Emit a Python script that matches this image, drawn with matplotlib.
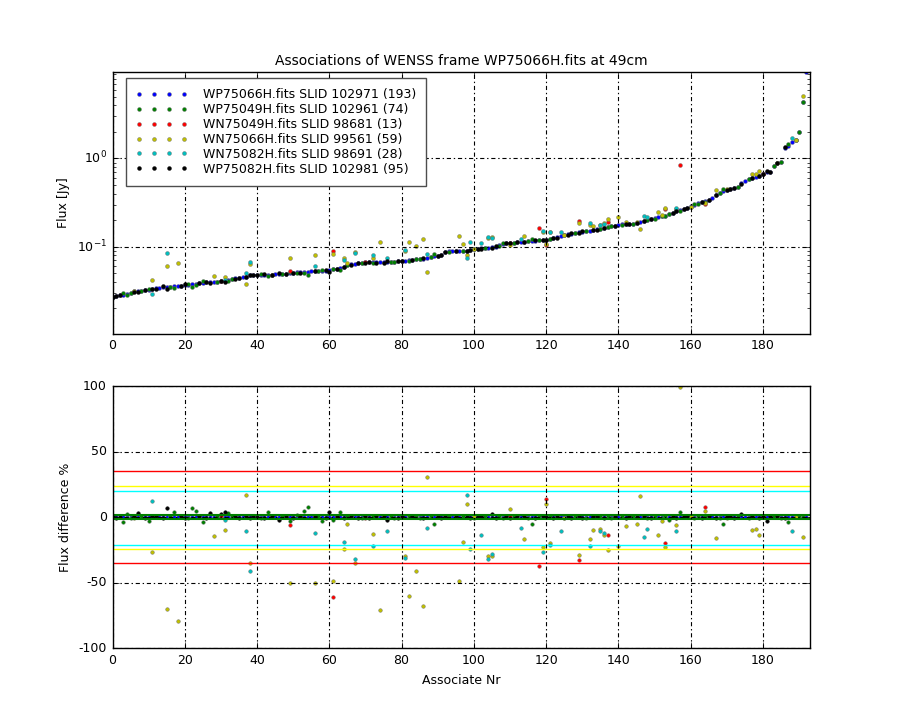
import matplotlib
matplotlib.use("Agg")
import matplotlib.pyplot as plt
import numpy as np

plt.style.use('classic')
plt.rcParams['font.family'] = ['DejaVu Sans']
plt.rcParams['font.size'] = 9
plt.rcParams['axes.unicode_minus'] = False

# main source fluxes (Jy), sorted, one per associate
main_flux = [
    0.027, 0.0275, 0.028, 0.0285, 0.029, 0.0295, 0.031, 0.031, 0.0315, 0.032,
    0.032, 0.033, 0.0335, 0.034, 0.035, 0.035, 0.035, 0.0355, 0.036, 0.036,
    0.037, 0.037, 0.0375, 0.038, 0.039, 0.039, 0.0395, 0.040, 0.040, 0.040,
    0.041, 0.041, 0.042, 0.043, 0.0435, 0.044, 0.0445, 0.045, 0.047, 0.048,
    0.048, 0.048, 0.048, 0.048, 0.048, 0.0485, 0.049, 0.049, 0.049, 0.050,
    0.050, 0.051, 0.051, 0.052, 0.052, 0.0525, 0.053, 0.053, 0.053, 0.053,
    0.054, 0.055, 0.056, 0.057, 0.059, 0.062, 0.063, 0.064, 0.065, 0.065,
    0.066, 0.066, 0.066, 0.066, 0.066, 0.0665, 0.067, 0.067, 0.067, 0.068,
    0.068, 0.069, 0.070, 0.071, 0.072, 0.072, 0.073, 0.075, 0.077, 0.078,
    0.079, 0.080, 0.087, 0.088, 0.088, 0.089, 0.089, 0.090, 0.090, 0.091,
    0.093, 0.094, 0.095, 0.096, 0.097, 0.098, 0.100, 0.103, 0.108, 0.109,
    0.110, 0.111, 0.112, 0.113, 0.114, 0.115, 0.116, 0.117, 0.118, 0.119,
    0.120, 0.122, 0.124, 0.127, 0.131, 0.134, 0.137, 0.140, 0.143, 0.145,
    0.147, 0.149, 0.152, 0.155, 0.157, 0.160, 0.163, 0.166, 0.170, 0.173,
    0.176, 0.178, 0.179, 0.180, 0.181, 0.183, 0.190, 0.195, 0.198, 0.205,
    0.210, 0.215, 0.220, 0.225, 0.232, 0.240, 0.250, 0.262, 0.270, 0.275,
    0.285, 0.300, 0.310, 0.318, 0.325, 0.340, 0.360, 0.380, 0.405, 0.425,
    0.440, 0.450, 0.460, 0.480, 0.520, 0.560, 0.580, 0.600, 0.610, 0.625,
    0.670, 0.700, 0.705, 0.830, 0.890, 0.910, 1.33, 1.40, 1.55, 1.63,
    2.0, 4.4, 9.5,
]

# other catalogues: associate index and flux difference in %
green_idx = [3, 4, 5, 8, 10, 16, 17, 21, 22, 23, 25, 29, 32, 33, 41, 43, 47, 49,
             51, 53, 54, 57, 58, 61, 63, 65, 69, 72, 77, 78, 82, 84, 85, 88, 89,
             93, 97, 100, 103, 107, 108, 111, 115, 116, 118, 121, 125, 128, 131,
             135, 137, 138, 141, 144, 148, 150, 152, 153, 154, 157, 160, 161, 162,
             164, 168, 169, 173, 176, 183, 185, 187, 189, 190, 191]
green_diff = [-4, 2, -1, 0.5, -3, 1, 4, -1, 7, 4.5, -4, 0.5, 3, 1, -0.5, 4, 0.5, -3,
              1.5, 5, 8, 0.5, -3, -2, 4, 1, -0.5, 0.5, 1, -0.5, 1, 0.5, -1, 0.5, -5,
              1, 0.5, -0.5, 1, 0.5, -1, 0.5, -1, -5, 0.5, 1, -0.5, 1, -1,
              0.5, 0.5, -1, 0.5, 1, -0.5, 1, -0.5, 0.5, -2, 4, 0.5, -1, 1,
              0.5, -0.5, -5, 1, -0.5, 0.5, -1, -4, 0.5, 1, 0]

red_idx = [30, 49, 61, 70, 110, 118, 120, 129, 137, 153, 157, 164, 180]
red_diff = [0.5, -6, -61, -0.5, 1, -37, 14, -33, -14, -20, -225, 7.5, 0]

yellow_idx = [6, 11, 15, 18, 28, 31, 37, 38, 44, 49, 56, 61, 64, 65, 67, 72, 74, 81,
              82, 84, 86, 87, 96, 97, 98, 100, 104, 105, 110, 114, 119, 120, 121,
              125, 129, 132, 133, 135, 136, 137, 140, 142, 145, 146, 151, 152, 153,
              156, 157, 160, 164, 167, 170, 177, 178, 179, 184, 189, 191]
yellow_diff = [-1, -27, -70, -79, -14.6, -10, 17, -35, 1, -50, -50, -49, -24, -5, -35,
               -13, -71, -30, -60, -41, -68, 31, -49, -19, 10, 0.5, -30, -30, 6, -17,
               -23, 10, -20, -1, -29, -17, -10, -9, -14, -25, -22, -7, -5, 16, -14,
               -3, -23, -6, 99, 0.5, 5, -16, -1, -10, -9, -14, 1, 0, -15]

cyan_idx = [11, 15, 31, 37, 38, 56, 64, 67, 72, 76, 81, 87, 98, 99, 102, 104, 105,
            113, 119, 121, 124, 132, 135, 136, 147, 148, 156, 188]
cyan_diff = [12, -140, -2, -11, -41, -12, -19, -32, -22, -11, -31, -8.5, 17, -24.5,
             -14, -32, -28, -8, -27, -21, -11, -22, -11, -12, -15, -9, -11, -11]

black_idx = [0, 1, 2, 6, 7, 9, 11, 12, 14, 15, 19, 20, 24, 26, 27, 30, 31, 34, 35,
             37, 38, 39, 40, 42, 44, 46, 48, 50, 52, 56, 59, 60, 62, 64, 66, 68,
             70, 71, 73, 75, 76, 79, 80, 83, 86, 90, 91, 92, 95, 98, 99, 101, 102,
             105, 106, 109, 110, 112, 114, 117, 119, 120, 122, 123, 126, 127, 129,
             130, 133, 134, 136, 139, 142, 143, 145, 147, 149, 155, 156, 158, 159,
             163, 165, 167, 170, 171, 172, 174, 177, 179, 180, 181, 182, 184, 186]
black_diff = [0.5, -0.5, 0, 1, 3, -0.5, 1, 0.5, -1, 7, 1, -0.5, 0.5, -1, 3, 2, 4, 0.5,
              -0.5, 1, -1, 0.5, 0, -0.5, 1, -2, 0.5, -0.5, 1, 0.5, -1, 4, 0.5, -0.5,
              1, -0.5, 0.5, -1, 0.5, 1, -2, -0.5, 0.5, 1, -0.5, 0.5, -1, 0.5, 1, 0,
              -0.5, 0.5, 1, 2, -0.5, 0.5, -1, 0.5, 1, -0.5, 0.5, 0, -1, 0.5, 1, -0.5,
              0.5, -1, 0.5, 1, -0.5, 0.5, -1, 0.5, 0, 1, -0.5, 0.5, -1, 0.5, 1, -0.5,
              0.5, -1, 0.5, 1, -0.5, 2, 0.5, -1, 0.5, -3, 0.5, 1, -0.5]

labels = ['WP75066H.fits SLID 102971 (193)', 'WP75049H.fits SLID 102961 (74)',
          'WN75049H.fits SLID 98681 (13)', 'WN75066H.fits SLID 99561 (59)',
          'WN75082H.fits SLID 98691 (28)', 'WP75082H.fits SLID 102981 (95)']

main_flux = np.array(main_flux)
main_idx = np.arange(len(main_flux))

series = [
    (main_idx, np.zeros(len(main_idx)), 'b'),
    (np.array(green_idx), np.array(green_diff), 'g'),
    (np.array(red_idx), np.array(red_diff), 'r'),
    (np.array(yellow_idx), np.array(yellow_diff), 'y'),
    (np.array(cyan_idx), np.array(cyan_diff), 'c'),
    (np.array(black_idx), np.array(black_diff), 'k'),
]

fig = plt.figure(figsize=(9, 7.2), dpi=100, facecolor='white')
ax1 = fig.add_subplot(2, 1, 1)
ax2 = fig.add_subplot(2, 1, 2)
fig.subplots_adjust(left=0.125, right=0.9, bottom=0.1, top=0.9, hspace=0.2)

gridstyle = dict(color='k', linestyle=(0, (3, 2, 1, 2)), linewidth=0.8)

for (idx, diff, col), lab in zip(series, labels):
    flux = main_flux[idx] * (1 - diff / 100.0)
    mec = '0.4' if col != 'k' else 'k'
    ax1.plot(idx, flux, 'o', color=col, ms=2.8, mew=0.3, mec=mec, label=lab)
    ax2.plot(idx, diff, 'o', color=col, ms=2.6, mew=0.3, mec=mec)

ax1.set_yscale('log')
ax1.set_xlim(0, 193)
ax1.set_ylim(0.0102, 9.6)
ax1.set_ylabel('Flux [Jy]')
ax1.set_title('Associations of WENSS frame WP75066H.fits at 49cm', fontsize=10)
ax1.grid(True, which='major', **gridstyle)
leg = ax1.legend(loc='upper left', numpoints=4, fontsize=9, handlelength=4.2,
                 handletextpad=1.2, borderpad=0.8, labelspacing=0.15,
                 bbox_to_anchor=(0.01, 1.0))
leg.get_frame().set_edgecolor('0.3')

# tolerance lines
ax2.axhline(35, color='r', lw=1)
ax2.axhline(-35, color='r', lw=1)
ax2.axhline(24, color='yellow', lw=1)
ax2.axhline(-24, color='yellow', lw=1)
ax2.axhline(20, color='cyan', lw=1)
ax2.axhline(-21, color='cyan', lw=1)
ax2.axhline(1.5, color='g', lw=1.5)
ax2.axhline(-1.5, color='g', lw=1.5)

ax2.set_xlim(0, 193)
ax2.set_ylim(-100, 100)
ax2.set_yticks([-100, -50, 0, 50, 100])
ax2.set_xlabel('Associate Nr')
ax2.set_ylabel('Flux difference %')
ax2.grid(True, **gridstyle)

for ax in (ax1, ax2):
    ax.set_xticks(range(0, 181, 20))
    ax.tick_params(labelsize=9)

fig.savefig('out.png', dpi=100, facecolor='white')
